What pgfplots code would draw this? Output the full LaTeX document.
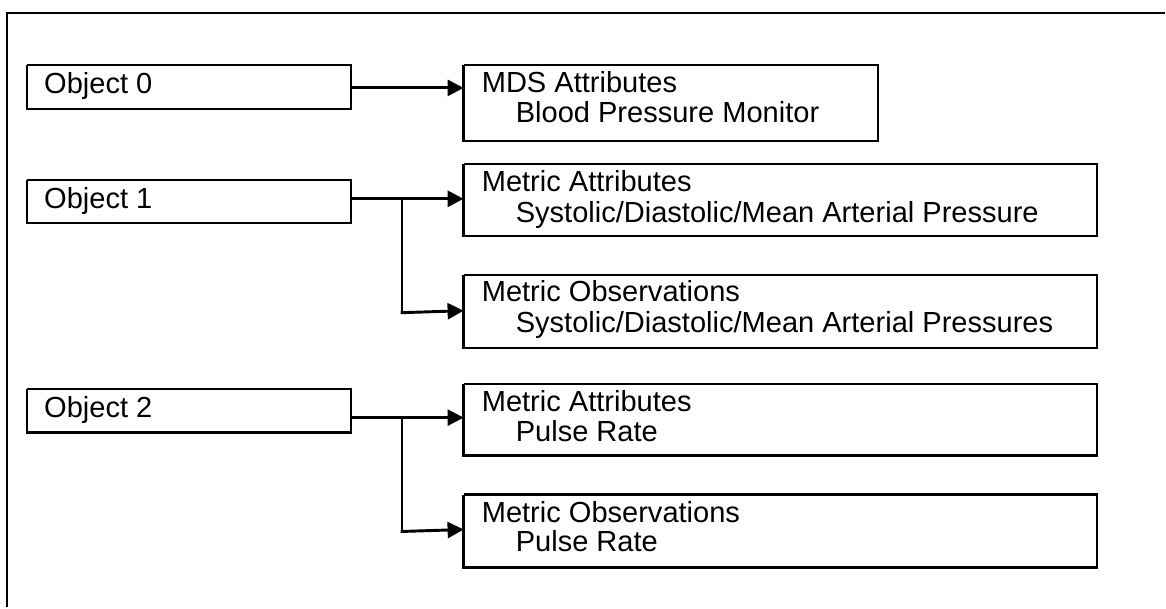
\documentclass[border=0pt]{standalone}
\usepackage{pgfplots}
\pgfplotsset{compat=1.18}
\usepackage{fontspec}
\setmainfont{Liberation Sans}
\usetikzlibrary{arrows.meta}
\begin{document}
\begin{tikzpicture}
\begin{axis}[
  x=0.75pt, y=0.75pt, scale only axis,
  xmin=0, xmax=1166, ymin=0, ymax=608, y dir=reverse,
  hide axis, clip=false,
]
\path (axis cs:0,0) rectangle (axis cs:1166,608);
% outer frame (top and left)
\addplot[black, line width=1.6pt] coordinates {(7,608) (7,13) (1166,13)};
% left object boxes
\addplot[black, line width=1.7pt] coordinates {(27,65) (351,65) (351,109) (27,109) (27,65)};
\addplot[black, line width=1.7pt] coordinates {(27,180) (351,180) (351,223) (27,223) (27,180)};
\addplot[black, line width=1.7pt] coordinates {(27,389) (351,389) (351,433) (27,433) (27,389)};
% right boxes
\addplot[black, line width=1.7pt] coordinates {(464,65) (879,65) (879,141) (464,141) (464,65)};
\addplot[black, line width=1.7pt] coordinates {(464,164) (1098,164) (1098,236) (464,236) (464,164)};
\addplot[black, line width=1.7pt] coordinates {(464,275) (1098,275) (1098,348) (464,348) (464,275)};
\addplot[black, line width=1.7pt] coordinates {(464,384) (1098,384) (1098,456) (464,456) (464,384)};
\addplot[black, line width=1.7pt] coordinates {(464,495) (1098,495) (1098,568) (464,568) (464,495)};
% arrows
\addplot[black, line width=2.2pt, -{Triangle[length=12pt,width=12pt]}] coordinates {(351,88) (464,88)};
\addplot[black, line width=2.2pt, -{Triangle[length=12pt,width=12pt]}] coordinates {(351,199) (464,199)};
\addplot[black, line width=1.7pt] coordinates {(402,199) (402,313)};
\addplot[black, line width=2.2pt, -{Triangle[length=12pt,width=12pt]}] coordinates {(401,313) (464,311)};
\addplot[black, line width=2.2pt, -{Triangle[length=12pt,width=12pt]}] coordinates {(351,418) (464,418)};
\addplot[black, line width=1.7pt] coordinates {(402,418) (402,532)};
\addplot[black, line width=2.2pt, -{Triangle[length=12pt,width=12pt]}] coordinates {(401,532) (464,530)};
% texts
\begin{scope}[every node/.style={anchor=base west, inner sep=0pt, font=\fontsize{21.8}{26}\selectfont}]
\node at (axis cs:44,94) {Object 0};
\node at (axis cs:44,209) {Object 1};
\node at (axis cs:44,418) {Object 2};
\node at (axis cs:482,93) {MDS Attributes};
\node at (axis cs:516,123) {Blood Pressure Monitor};
\node at (axis cs:482,192) {Metric Attributes};
\node at (axis cs:516,223) {Systolic/Diastolic/Mean Arterial Pressure};
\node at (axis cs:482,302) {Metric Observations};
\node at (axis cs:516,333) {Systolic/Diastolic/Mean Arterial Pressures};
\node at (axis cs:482,412) {Metric Attributes};
\node at (axis cs:516,442) {Pulse Rate};
\node at (axis cs:482,523) {Metric Observations};
\node at (axis cs:516,552) {Pulse Rate};
\end{scope}
\end{axis}
\end{tikzpicture}
\end{document}
